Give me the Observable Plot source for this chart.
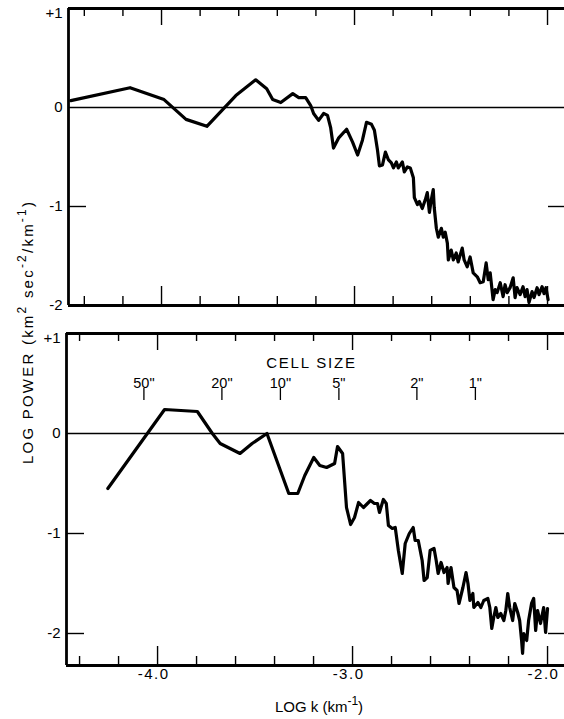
<!DOCTYPE html>
<html>
<head>
<meta charset="utf-8">
<script src="https://cdn.jsdelivr.net/npm/d3@7"></script>
<script src="https://cdn.jsdelivr.net/npm/@observablehq/plot@0.6"></script>
<style>
html, body { margin: 0; padding: 0; background: #fff; }
#wrap { position: relative; width: 564px; height: 719px; overflow: hidden; }
#wrap svg { display: block; }
#overlay { position: absolute; left: 0; top: 0; pointer-events: none; }
</style>
</head>
<body>
<div id="wrap"></div>
<script>
// ---- Upper panel: log k vs log power ----
const topK = [-4.47,-4.163,-3.987,-3.873,-3.765,-3.615,-3.512,-3.455,-3.424,-3.382,-3.320,-3.289,-3.253,-3.227,-3.212,-3.186,-3.160,-3.140,-3.124,-3.109,-3.083,-3.041,-3.010,-2.984,-2.959,-2.938,-2.912,-2.897,-2.881,-2.871,-2.855,-2.840,-2.824,-2.809,-2.798,-2.783,-2.773,-2.752,-2.742,-2.726,-2.711,-2.695,-2.690,-2.674,-2.664,-2.649,-2.633,-2.623,-2.612,-2.602,-2.592,-2.587,-2.576,-2.566,-2.550,-2.540,-2.530,-2.519,-2.514,-2.499,-2.488,-2.473,-2.463,-2.442,-2.432,-2.416,-2.401,-2.385,-2.364,-2.349,-2.333,-2.318,-2.307,-2.297,-2.282,-2.271,-2.261,-2.245,-2.230,-2.220,-2.209,-2.194,-2.178,-2.168,-2.158,-2.142,-2.127,-2.116,-2.106,-2.096,-2.080,-2.070,-2.054,-2.044,-2.028,-2.018,-2.008,-1.997];
const topP = [0.07,0.20,0.08,-0.12,-0.19,0.12,0.28,0.19,0.08,0.05,0.14,0.10,0.10,0.02,-0.06,-0.13,-0.06,-0.08,-0.20,-0.41,-0.31,-0.22,-0.35,-0.48,-0.33,-0.15,-0.17,-0.23,-0.43,-0.59,-0.58,-0.45,-0.53,-0.56,-0.61,-0.55,-0.61,-0.55,-0.65,-0.60,-0.61,-0.71,-0.91,-0.98,-0.95,-1.02,-0.93,-0.86,-1.06,-0.93,-0.83,-1.01,-1.22,-1.31,-1.22,-1.31,-1.26,-1.37,-1.54,-1.44,-1.54,-1.47,-1.56,-1.42,-1.54,-1.61,-1.51,-1.67,-1.71,-1.77,-1.76,-1.57,-1.74,-1.67,-1.94,-1.84,-1.87,-1.77,-1.91,-1.79,-1.87,-1.82,-1.72,-1.92,-1.82,-1.89,-1.81,-1.91,-1.84,-1.97,-1.86,-1.92,-1.82,-1.89,-1.81,-1.88,-1.82,-1.94];

// ---- Lower panel ----
const botK = [-4.255,-3.964,-3.796,-3.719,-3.679,-3.577,-3.515,-3.439,-3.327,-3.281,-3.245,-3.199,-3.168,-3.133,-3.092,-3.077,-3.051,-3.031,-3.010,-2.990,-2.969,-2.944,-2.908,-2.888,-2.872,-2.862,-2.842,-2.827,-2.816,-2.796,-2.781,-2.765,-2.745,-2.730,-2.709,-2.689,-2.679,-2.663,-2.643,-2.633,-2.617,-2.602,-2.582,-2.571,-2.561,-2.546,-2.531,-2.515,-2.510,-2.495,-2.480,-2.464,-2.454,-2.434,-2.418,-2.408,-2.398,-2.383,-2.378,-2.357,-2.342,-2.327,-2.306,-2.296,-2.286,-2.276,-2.265,-2.255,-2.240,-2.224,-2.214,-2.204,-2.194,-2.179,-2.168,-2.153,-2.143,-2.133,-2.128,-2.122,-2.107,-2.097,-2.082,-2.071,-2.061,-2.051,-2.036,-2.020,-2.010,-2.000];
const botP = [-0.55,0.24,0.22,0.00,-0.10,-0.20,-0.10,0.00,-0.60,-0.60,-0.42,-0.24,-0.32,-0.34,-0.30,-0.13,-0.20,-0.74,-0.91,-0.84,-0.69,-0.74,-0.67,-0.70,-0.70,-0.79,-0.66,-0.70,-0.92,-0.95,-0.94,-1.17,-1.40,-1.10,-1.00,-0.94,-1.07,-1.07,-1.27,-1.47,-1.44,-1.17,-1.15,-1.27,-1.40,-1.29,-1.39,-1.34,-1.50,-1.34,-1.54,-1.57,-1.70,-1.54,-1.39,-1.50,-1.67,-1.60,-1.74,-1.69,-1.74,-1.67,-1.65,-1.74,-1.95,-1.84,-1.74,-1.84,-1.80,-1.87,-1.77,-1.60,-1.74,-1.87,-1.70,-1.79,-1.87,-2.07,-2.20,-2.00,-2.07,-1.87,-1.70,-1.65,-1.97,-1.77,-1.90,-1.74,-1.99,-1.75];

// ---- Axes / annotations ----
const yTicks = [1, 0, -1, -2];
const yTickLabels = ["+1", "0", "-1", "-2"];
const xMajor = [-4, -3, -2];
const xMajorLabels = ["-4.0", "-3.0", "-2.0"];
const xMinor = [-4.4, -4.2, -3.8, -3.6, -3.4, -3.2, -2.8, -2.6, -2.4, -2.2];
const cellLabels = ['50"', '20"', '10"', '5"', '2"', '1"'];
const cellK = [-4.07, -3.67, -3.37, -3.07, -2.67, -2.37];

const W = 564;
const FONT = "'Liberation Sans', Arial, Helvetica, sans-serif";

function panel({K, P, xDomain, yDomain, marginLeft, marginTop, marginBottom, height, sideTicks, xLabels, cells}) {
  const fw = W - marginLeft;
  const fh = height - marginTop - marginBottom;
  const series = K.map((k, i) => ({k, p: P[i]}));
  const yl = yTicks.map((v, i) => ({v, label: yTickLabels[i]}));
  const marks = [
    Plot.ruleY([0], {stroke: "#000", strokeWidth: 1.3}),
    Plot.ruleY([yDomain[1]], {stroke: "#000", strokeWidth: 2.8}),
    Plot.ruleY([yDomain[0]], {stroke: "#000", strokeWidth: 2.8}),
    Plot.ruleX([xDomain[0]], {stroke: "#000", strokeWidth: 2.8}),
    Plot.ruleX(xMinor, {stroke: "#000", strokeWidth: 1.4, insetBottom: fh - 8}),
    Plot.ruleX(xMinor, {stroke: "#000", strokeWidth: 1.4, insetTop: fh - 9}),
    Plot.ruleX(xMajor, {stroke: "#000", strokeWidth: 1.4, insetBottom: fh - 17}),
    Plot.ruleX(xMajor, {stroke: "#000", strokeWidth: 1.4, insetTop: fh - 19}),
    Plot.ruleY(sideTicks, {stroke: "#000", strokeWidth: 1.4, insetRight: fw - 18}),
    Plot.ruleY(sideTicks, {stroke: "#000", strokeWidth: 1.4, insetLeft: fw - 16}),
    Plot.text(yl.filter(d => d.v !== 1), {y: "v", text: "label", frameAnchor: "left", dx: -6, textAnchor: "end", fontSize: 15}),
    Plot.text(yl.filter(d => d.v === 1), {y: "v", text: "label", frameAnchor: "left", dx: -6, dy: 5, textAnchor: "end", fontSize: 15}),
    Plot.line(series, {x: "k", y: "p", stroke: "#000", strokeWidth: 3.2, strokeLinejoin: "round", strokeLinecap: "round"})
  ];
  if (xLabels) {
    marks.push(Plot.text(xMajor.map((v, i) => ({v, label: xMajorLabels[i]})), {x: "v", text: "label", frameAnchor: "bottom", dy: 13, dx: -4, fontSize: 15}));
  }
  if (cells) {
    marks.push(Plot.text(cellK.map((v, i) => ({v, label: cellLabels[i]})), {x: "v", text: "label", frameAnchor: "top", dy: 44, fontSize: 14.5}));
    marks.push(Plot.ruleX(cellK, {stroke: "#000", strokeWidth: 1.3, insetTop: 55, insetBottom: fh - 67}));
    marks.push(Plot.text(["CELL SIZE"], {frameAnchor: "top", dy: 24, dx: -4, fontSize: 15}));
  }
  return Plot.plot({
    width: W, height, marginLeft, marginRight: 0, marginTop, marginBottom,
    style: {fontFamily: FONT, color: "#000", background: "#fff", overflow: "visible"},
    x: {domain: xDomain, axis: null},
    y: {domain: yDomain, axis: null},
    marks
  });
}

const wrap = document.getElementById("wrap");
const p1 = panel({K: topK, P: topP, xDomain: [-4.482, -1.912], yDomain: [-2, 1],
  marginLeft: 68, marginTop: 8, marginBottom: 15, height: 320, sideTicks: [-1], xLabels: false, cells: false});
const p2 = panel({K: botK, P: botP, xDomain: [-4.467, -1.913], yDomain: [-2.32, 1],
  marginLeft: 66, marginTop: 13, marginBottom: 54, height: 399, sideTicks: [-1, -2], xLabels: true, cells: true});
wrap.appendChild(p1);
wrap.appendChild(p2);
d3.select(p2).selectAll("text").filter(function() { return this.textContent === "CELL SIZE"; })
  .style("letter-spacing", "1.8px");
d3.select(p2).selectAll("text").filter(function() { return xMajorLabels.includes(this.textContent); })
  .style("letter-spacing", "1.5px");

// axis titles spanning both panels, as real text
const ov = d3.select(wrap).append("svg").attr("id", "overlay").attr("width", W).attr("height", 719)
  .style("font-family", FONT).style("font-size", "15px");
const yt = ov.append("text").attr("transform", "translate(33,333) rotate(-90)")
  .attr("text-anchor", "middle").attr("textLength", 262).attr("lengthAdjust", "spacing");
yt.append("tspan").text("LOG POWER  (km");
yt.append("tspan").attr("dy", -7).attr("font-size", 12).text("2");
yt.append("tspan").attr("dy", 7).text(" sec");
yt.append("tspan").attr("dy", -7).attr("font-size", 12).text("-2");
yt.append("tspan").attr("dy", 7).text("/km");
yt.append("tspan").attr("dy", -7).attr("font-size", 12).text("-1");
yt.append("tspan").attr("dy", 7).text(")");
const xt = ov.append("text").attr("x", 319).attr("y", 712).attr("text-anchor", "middle");
xt.append("tspan").text("LOG k (km");
xt.append("tspan").attr("dy", -7).attr("font-size", 12).text("-1");
xt.append("tspan").attr("dy", 7).text(")");
</script>
</body>
</html>
